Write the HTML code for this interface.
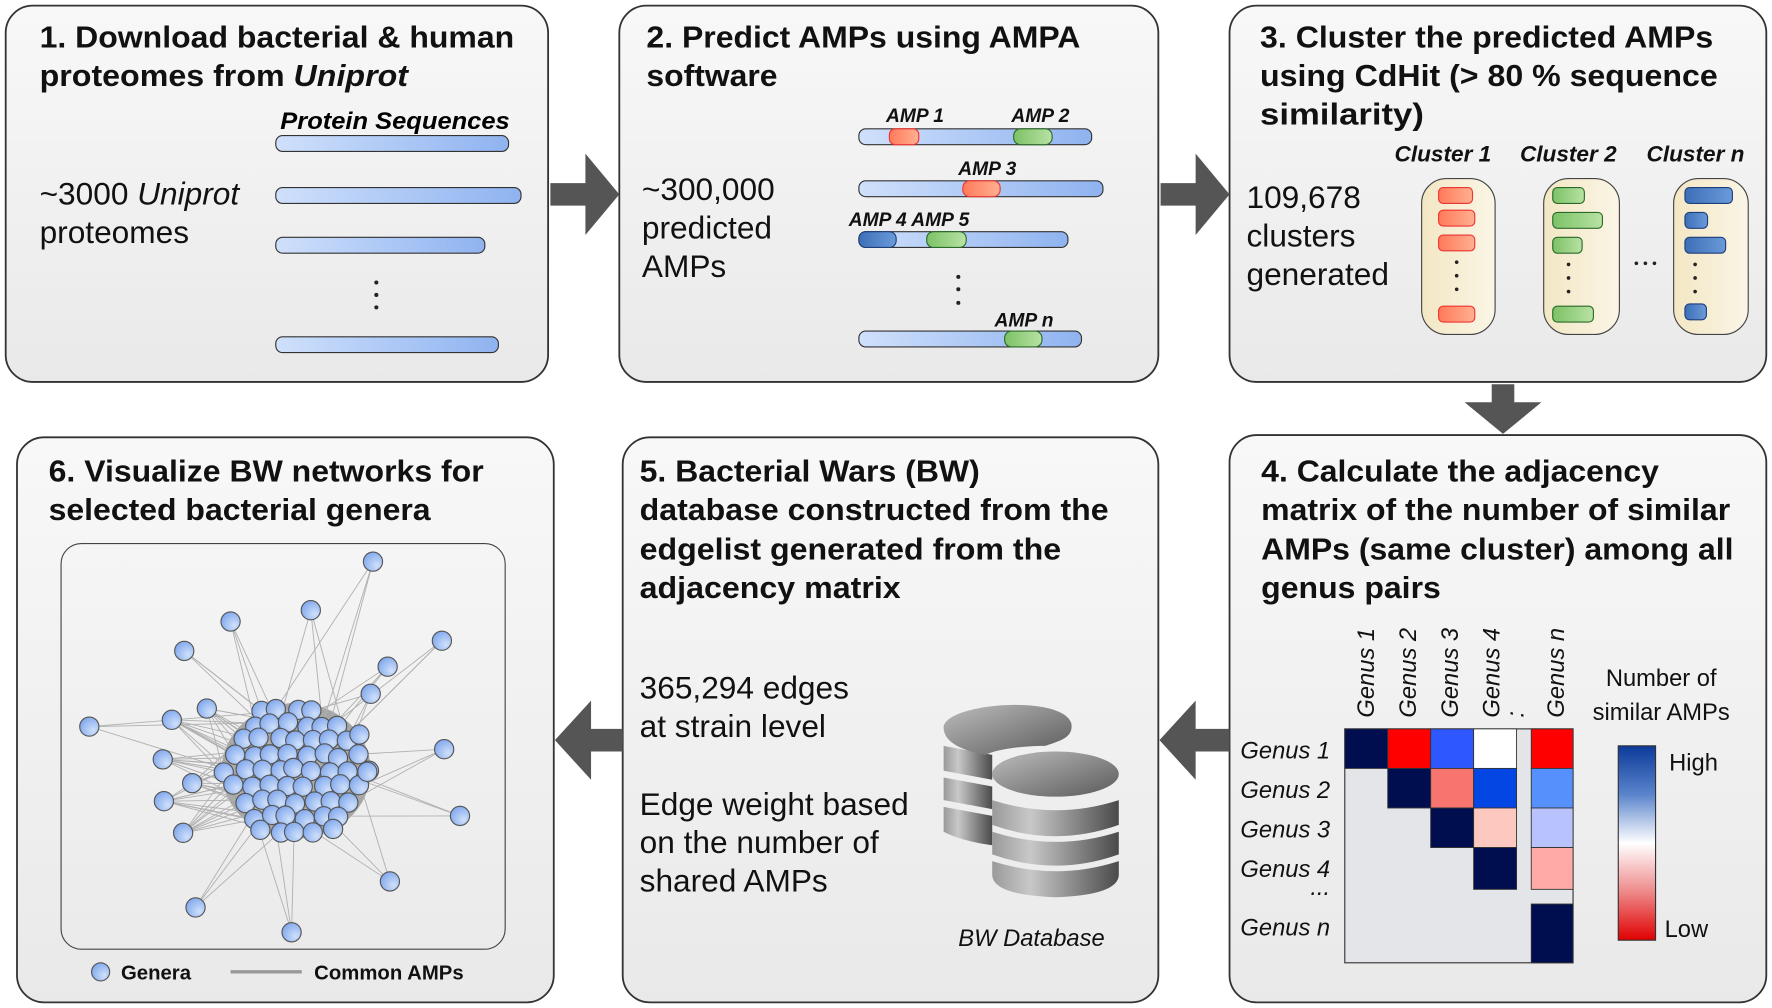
<!DOCTYPE html>
<html><head><meta charset="utf-8"><style>
html,body{margin:0;padding:0;background:#fff;}
svg{display:block;font-family:"Liberation Sans",Arial,sans-serif;}
.t{font-weight:bold;font-size:27px;fill:#111;}
.b{font-size:28px;fill:#111;}
.lab{font-weight:bold;font-style:italic;font-size:17px;fill:#111;}
.gl{font-style:italic;font-size:21px;fill:#111;}
</style></head><body>
<svg width="1772" height="1008" viewBox="0 0 1568 892" xmlns="http://www.w3.org/2000/svg">
<defs>
<linearGradient id="pg" x1="0" y1="0" x2="0" y2="1"><stop offset="0" stop-color="#f8f8f8"/><stop offset="1" stop-color="#e9e9e9"/></linearGradient>
<linearGradient id="bar" x1="0" y1="0" x2="1" y2="0"><stop offset="0" stop-color="#cfe0fb"/><stop offset="1" stop-color="#8fb3f0"/></linearGradient>
<linearGradient id="red" x1="0" y1="0" x2="1" y2="0"><stop offset="0" stop-color="#ff7a5a"/><stop offset="1" stop-color="#ffb090"/></linearGradient>
<linearGradient id="grn" x1="0" y1="0" x2="1" y2="0"><stop offset="0" stop-color="#7cc266"/><stop offset="1" stop-color="#b8e2a4"/></linearGradient>
<linearGradient id="blu" x1="0" y1="0" x2="1" y2="0"><stop offset="0" stop-color="#3d6fb8"/><stop offset="1" stop-color="#6a9ad8"/></linearGradient>
<linearGradient id="cap" x1="0" y1="0" x2="1" y2="0"><stop offset="0" stop-color="#f3e7c4"/><stop offset="1" stop-color="#faf5e6"/></linearGradient>
<linearGradient id="cb" x1="0" y1="0" x2="0" y2="1"><stop offset="0" stop-color="#0c3a9a"/><stop offset="0.25" stop-color="#5a84cc"/><stop offset="0.5" stop-color="#ffffff"/><stop offset="0.75" stop-color="#ee8a8a"/><stop offset="1" stop-color="#e00000"/></linearGradient>
<linearGradient id="cyl" x1="0" y1="0" x2="1" y2="0"><stop offset="0" stop-color="#9a9a9a"/><stop offset="0.3" stop-color="#c8c8c8"/><stop offset="1" stop-color="#4a4a4a"/></linearGradient>
<linearGradient id="top" x1="0" y1="0" x2="1" y2="1"><stop offset="0" stop-color="#bdbdbd"/><stop offset="1" stop-color="#5a5a5a"/></linearGradient>
<radialGradient id="nd" cx="0.7" cy="0.7" r="0.8"><stop offset="0" stop-color="#cfe0fb"/><stop offset="1" stop-color="#7ea6ec"/></radialGradient>
</defs>

<g fill="url(#pg)" stroke="#333" stroke-width="1.6">
<rect x="5" y="5" width="480" height="333" rx="24"/>
<rect x="548" y="5" width="477" height="333" rx="24"/>
<rect x="1088" y="5" width="475" height="333" rx="24"/>
<rect x="15" y="387" width="475" height="500" rx="24"/>
<rect x="551" y="387" width="474" height="500" rx="24"/>
<rect x="1088" y="385" width="475" height="502" rx="24"/>
</g>

<g fill="#555">
<polygon points="487,162 518,162 518,136 548,172 518,208 518,182 487,182"/>
<polygon points="1027,162 1058,162 1058,136 1088,172 1058,208 1058,182 1027,182"/>
<polygon points="1320,340 1340,340 1340,356 1364,356 1330,384 1296,356 1320,356"/>
<polygon points="1088,645 1058,645 1058,620 1026,655 1058,690 1058,665 1088,665"/>
<polygon points="551,645 523,645 523,620 491,655 523,690 523,665 551,665"/>
</g>

<!-- Panel 1 -->
<text class="t" x="35" y="42" textLength="420" lengthAdjust="spacingAndGlyphs">1. Download bacterial &amp; human</text>
<text class="t" x="35" y="76" textLength="326" lengthAdjust="spacingAndGlyphs">proteomes from <tspan font-style="italic">Uniprot</tspan></text>
<text x="248" y="114" font-weight="bold" font-style="italic" font-size="21" textLength="203" lengthAdjust="spacingAndGlyphs">Protein Sequences</text>
<g fill="url(#bar)" stroke="#333" stroke-width="1">
<rect x="244" y="120" width="206" height="14" rx="6"/>
<rect x="244" y="166" width="217" height="14" rx="6"/>
<rect x="244" y="210" width="185" height="14" rx="6"/>
<rect x="244" y="298" width="197" height="14" rx="6"/>
</g>
<g fill="#222"><circle cx="333" cy="250" r="1.8"/><circle cx="333" cy="261" r="1.8"/><circle cx="333" cy="272" r="1.8"/></g>
<text class="b" x="35" y="181">~3000 <tspan font-style="italic">Uniprot</tspan></text>
<text class="b" x="35" y="215">proteomes</text>

<!-- Panel 2 -->
<text class="t" x="572" y="42" textLength="384" lengthAdjust="spacingAndGlyphs">2. Predict AMPs using AMPA</text>
<text class="t" x="572" y="76" textLength="116" lengthAdjust="spacingAndGlyphs">software</text>
<text class="b" x="568" y="177">~300,000</text>
<text class="b" x="568" y="211">predicted</text>
<text class="b" x="568" y="245">AMPs</text>
<g stroke="#333" stroke-width="1">
<rect x="760" y="114" width="206" height="14" rx="6" fill="url(#bar)"/>
<rect x="787" y="114" width="26" height="14" rx="5" fill="url(#red)" stroke="#e33"/>
<rect x="897" y="114" width="34" height="14" rx="6" fill="url(#grn)" stroke="#2a6a2a"/>
<rect x="760" y="160" width="216" height="14" rx="6" fill="url(#bar)"/>
<rect x="852" y="160" width="33" height="14" rx="6" fill="url(#red)" stroke="#e33"/>
<rect x="760" y="205" width="185" height="14" rx="6" fill="url(#bar)"/>
<rect x="760" y="205" width="33" height="14" rx="6" fill="url(#blu)" stroke="#1e3e7a"/>
<rect x="820" y="205" width="35" height="14" rx="6" fill="url(#grn)" stroke="#2a6a2a"/>
<rect x="760" y="293" width="197" height="14" rx="6" fill="url(#bar)"/>
<rect x="889" y="293" width="33" height="14" rx="6" fill="url(#grn)" stroke="#2a6a2a"/>
</g>
<text class="lab" x="784" y="108">AMP 1</text>
<text class="lab" x="895" y="108">AMP 2</text>
<text class="lab" x="848" y="155">AMP 3</text>
<text class="lab" x="751" y="200">AMP 4 AMP 5</text>
<text class="lab" x="880" y="289">AMP <tspan>n</tspan></text>
<g fill="#222"><circle cx="848" cy="245" r="1.8"/><circle cx="848" cy="256" r="1.8"/><circle cx="848" cy="268" r="1.8"/></g>

<!-- Panel 3 -->
<text class="t" x="1115" y="42" textLength="401" lengthAdjust="spacingAndGlyphs">3. Cluster the predicted AMPs</text>
<text class="t" x="1115" y="76" textLength="405" lengthAdjust="spacingAndGlyphs">using CdHit (&gt; 80 % sequence</text>
<text class="t" x="1115" y="110" textLength="145" lengthAdjust="spacingAndGlyphs">similarity)</text>
<text class="b" x="1103" y="184">109,678</text>
<text class="b" x="1103" y="218">clusters</text>
<text class="b" x="1103" y="252">generated</text>
<g font-weight="bold" font-style="italic" font-size="20" fill="#111">
<text x="1234" y="143">Cluster 1</text><text x="1345" y="143">Cluster 2</text><text x="1457" y="143">Cluster n</text>
</g>
<g fill="url(#cap)" stroke="#444" stroke-width="1">
<rect x="1258" y="158" width="65" height="138" rx="22"/>
<rect x="1366" y="158" width="67" height="138" rx="22"/>
<rect x="1481" y="158" width="66" height="138" rx="22"/>
</g>
<g stroke-width="1">
<g fill="url(#red)" stroke="#e33">
<rect x="1273" y="166" width="30" height="14" rx="4"/><rect x="1273" y="186" width="32" height="14" rx="4"/><rect x="1273" y="208" width="32" height="14" rx="4"/><rect x="1273" y="271" width="32" height="14" rx="4"/>
</g>
<g fill="url(#grn)" stroke="#2a6a2a">
<rect x="1374" y="166" width="28" height="14" rx="4"/><rect x="1374" y="188" width="44" height="14" rx="4"/><rect x="1374" y="210" width="26" height="14" rx="4"/><rect x="1374" y="271" width="36" height="14" rx="4"/>
</g>
<g fill="url(#blu)" stroke="#1e3e7a">
<rect x="1491" y="166" width="42" height="14" rx="4"/><rect x="1491" y="188" width="20" height="14" rx="4"/><rect x="1491" y="210" width="36" height="14" rx="4"/><rect x="1491" y="269" width="19" height="14" rx="4"/>
</g>
</g>
<g fill="#222">
<circle cx="1289" cy="232" r="1.6"/><circle cx="1289" cy="244" r="1.6"/><circle cx="1289" cy="256" r="1.6"/>
<circle cx="1388" cy="234" r="1.6"/><circle cx="1388" cy="246" r="1.6"/><circle cx="1388" cy="258" r="1.6"/>
<circle cx="1500" cy="234" r="1.6"/><circle cx="1500" cy="246" r="1.6"/><circle cx="1500" cy="258" r="1.6"/>
<circle cx="1448" cy="233" r="1.6"/><circle cx="1456" cy="233" r="1.6"/><circle cx="1464" cy="233" r="1.6"/>
</g>

<!-- Panel 4 -->
<text class="t" x="1116" y="426" textLength="352" lengthAdjust="spacingAndGlyphs">4. Calculate the adjacency</text>
<text class="t" x="1116" y="460" textLength="415" lengthAdjust="spacingAndGlyphs">matrix of the number of similar</text>
<text class="t" x="1116" y="495" textLength="418" lengthAdjust="spacingAndGlyphs">AMPs (same cluster) among all</text>
<text class="t" x="1116" y="529" textLength="159" lengthAdjust="spacingAndGlyphs">genus pairs</text>
<g class="gl">
<text transform="translate(1216,635) rotate(-90)">Genus 1</text>
<text transform="translate(1253,635) rotate(-90)">Genus 2</text>
<text transform="translate(1290,635) rotate(-90)">Genus 3</text>
<text transform="translate(1327,635) rotate(-90)">Genus 4</text>
<text transform="translate(1348,635) rotate(-90)">: </text>
<text transform="translate(1384,635) rotate(-90)">Genus n</text>
</g>
<g class="gl" text-anchor="end">
<text x="1177" y="671">Genus 1</text><text x="1177" y="706">Genus 2</text><text x="1177" y="741">Genus 3</text><text x="1177" y="776">Genus 4</text><text x="1177" y="792">...</text><text x="1177" y="828">Genus n</text>
</g>
<rect x="1190" y="645" width="202" height="207" fill="#e4e5e8" stroke="#333" stroke-width="1"/>
<g stroke="#333" stroke-width="0.8">
<rect x="1190" y="645" width="38" height="35" fill="#000d4f"/>
<rect x="1228" y="645" width="38" height="35" fill="#ff0000"/>
<rect x="1266" y="645" width="38" height="35" fill="#2e57ff"/>
<rect x="1304" y="645" width="38" height="35" fill="#ffffff"/>
<rect x="1355" y="645" width="37" height="35" fill="#ff0000"/>
<rect x="1228" y="680" width="38" height="35" fill="#000d4f"/>
<rect x="1266" y="680" width="38" height="35" fill="#f8756f"/>
<rect x="1304" y="680" width="38" height="35" fill="#0446e4"/>
<rect x="1355" y="680" width="37" height="35" fill="#5690fd"/>
<rect x="1266" y="715" width="38" height="35" fill="#000d4f"/>
<rect x="1304" y="715" width="38" height="35" fill="#fcc8bf"/>
<rect x="1355" y="715" width="37" height="35" fill="#b8c3fd"/>
<rect x="1304" y="750" width="38" height="37" fill="#000d4f"/>
<rect x="1355" y="750" width="37" height="37" fill="#ffaaa6"/>
<rect x="1355" y="800" width="37" height="52" fill="#000d4f"/>
</g>
<text x="1470" y="607" text-anchor="middle" font-size="21" fill="#111">Number of</text>
<text x="1470" y="637" text-anchor="middle" font-size="21" fill="#111">similar AMPs</text>
<rect x="1432" y="660" width="33" height="172" fill="url(#cb)" stroke="#333" stroke-width="1"/>
<text x="1477" y="682" font-size="21" fill="#111">High</text>
<text x="1473" y="829" font-size="21" fill="#111">Low</text>

<!-- Panel 5 -->
<text class="t" x="566" y="426" textLength="301" lengthAdjust="spacingAndGlyphs">5. Bacterial Wars (BW)</text>
<text class="t" x="566" y="460" textLength="415" lengthAdjust="spacingAndGlyphs">database constructed from the</text>
<text class="t" x="566" y="495" textLength="373" lengthAdjust="spacingAndGlyphs">edgelist generated from the</text>
<text class="t" x="566" y="529" textLength="231" lengthAdjust="spacingAndGlyphs">adjacency matrix</text>
<text class="b" x="566" y="618">365,294 edges</text>
<text class="b" x="566" y="652">at strain level</text>
<text class="b" x="566" y="721">Edge weight based</text>
<text class="b" x="566" y="755">on the number of</text>
<text class="b" x="566" y="789">shared AMPs</text>
<g>
<path d="M835,660 L878,668 L878,690 L835,682 Z" fill="url(#cyl)"/>
<path d="M835,688 L878,696 L878,716 L835,708 Z" fill="url(#cyl)"/>
<path d="M835,714 L878,722 L878,748 Q850,744 835,736 Z" fill="url(#cyl)"/>
<path d="M835,644 C835,622 940,614 948,640 C950,652 940,655 925,660 C900,660 880,664 872,668 C850,664 835,656 835,644 Z" fill="url(#top)"/>
<ellipse cx="934" cy="685" rx="56" ry="20" fill="url(#top)"/>
<path d="M878,708 Q934,726 990,708 L990,730 Q934,750 878,730 Z" fill="url(#cyl)"/>
<path d="M878,736 Q934,754 990,736 L990,756 Q934,776 878,756 Z" fill="url(#cyl)"/>
<path d="M878,762 Q934,780 990,762 L990,774 Q990,792 934,794 Q878,792 878,774 Z" fill="url(#cyl)"/>
</g>
<text x="848" y="837" font-style="italic" font-size="21" fill="#111">BW Database</text>

<!-- Panel 6 -->
<text class="t" x="43" y="426" textLength="385" lengthAdjust="spacingAndGlyphs">6. Visualize BW networks for</text>
<text class="t" x="43" y="460" textLength="338" lengthAdjust="spacingAndGlyphs">selected bacterial genera</text>
<rect x="54" y="481" width="393" height="359" rx="18" fill="none" stroke="#444" stroke-width="1"/>
<g id="net"></g>
<circle cx="89" cy="860" r="8" fill="url(#nd)" stroke="#555" stroke-width="1"/>
<text x="107" y="867" font-weight="bold" font-size="18" fill="#111">Genera</text>
<line x1="204" y1="860" x2="267" y2="860" stroke="#999" stroke-width="3"/>
<text x="278" y="867" font-weight="bold" font-size="18" fill="#111">Common AMPs</text>
</svg>
<script>
(function(){
var ns="http://www.w3.org/2000/svg",g=document.getElementById("net");
var seed=11;function r(){seed=(seed*16807)%2147483647;return seed/2147483647;}
var out=[[330,497],[275,540],[204,550],[163,576],[391,567],[343,590],[79,643],[393,663],[407,722],[345,780],[258,825],[173,803],[162,737],[145,709],[144,672],[152,637],[183,627],[170,693],[328,614],[318,650],[325,683]];
var cl=[];
var cx=262,cy=682,rx=66,ry=60,sp=15.5;
for(var row=-5;row<=5;row++){for(var col=-5;col<=5;col++){
 var x=cx+col*sp+(row%2?sp/2:0)+(r()-0.5)*5, y=cy+row*sp*0.87+(r()-0.5)*5;
 var dx=(x-cx)/rx,dy=(y-cy)/ry; if(dx*dx+dy*dy<=1) cl.push([x,y]);
}}
var p=document.createElementNS(ns,"ellipse");p.setAttribute("cx",cx);p.setAttribute("cy",cy);p.setAttribute("rx",rx);p.setAttribute("ry",ry);p.setAttribute("fill","#a6a6a6");g.appendChild(p);
function ln(a,b){var l=document.createElementNS(ns,"line");l.setAttribute("x1",a[0]);l.setAttribute("y1",a[1]);l.setAttribute("x2",b[0]);l.setAttribute("y2",b[1]);l.setAttribute("stroke","#b0b0b0");l.setAttribute("stroke-width","0.8");g.appendChild(l);}
for(var i=0;i<out.length;i++){var n=(i>=12&&i<=17)?10:3;for(var k=0;k<n;k++)ln(out[i],cl[Math.floor(r()*cl.length)]);}
function nd(c){var e=document.createElementNS(ns,"circle");e.setAttribute("cx",c[0]);e.setAttribute("cy",c[1]);e.setAttribute("r",8.5);e.setAttribute("fill","url(#nd)");e.setAttribute("stroke","#555");e.setAttribute("stroke-width","1");g.appendChild(e);}
cl.forEach(nd);out.forEach(nd);
})();
</script>
</body></html>
